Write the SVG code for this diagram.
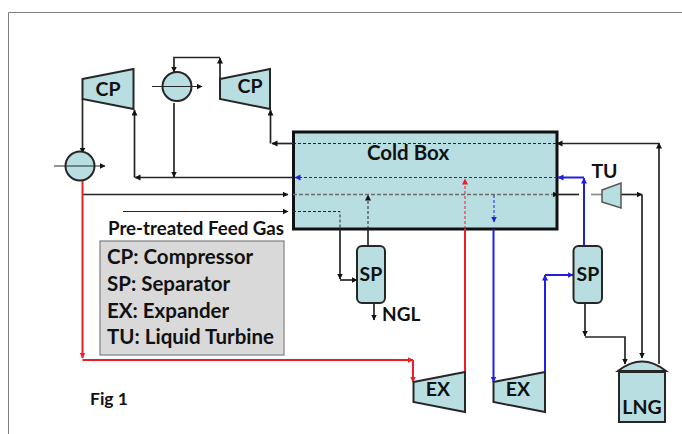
<svg xmlns="http://www.w3.org/2000/svg" width="682" height="434" viewBox="0 0 682 434">
<style>
text{font-family:"Lato","Liberation Sans",sans-serif;font-weight:700;fill:#111}
.m{text-anchor:middle;font-size:19.5px}
.lg{font-size:20.5px}
.eq{fill:#b8dee2;stroke:#262626;stroke-width:2}
.k{fill:none;stroke:#262626;stroke-width:1.7}
.kt{fill:none;stroke:#262626;stroke-width:1.2}
.kd{fill:none;stroke:#262626;stroke-width:1;stroke-dasharray:3 2}
.gd{fill:none;stroke:#6b6b6b;stroke-width:1.5;stroke-dasharray:4 2}
.r{fill:none;stroke:#ee1c25;stroke-width:2}
.rd{fill:none;stroke:#ee1c25;stroke-width:1;stroke-dasharray:3 2}
.b{fill:none;stroke:#2020e0;stroke-width:2}
.bd{fill:none;stroke:#2020e0;stroke-width:1;stroke-dasharray:3 2}
.ak{marker-end:url(#ak)}.ar{marker-end:url(#ar)}.ab{marker-end:url(#ab)}
</style>
<defs>
<marker id="ak" markerUnits="userSpaceOnUse" markerWidth="7" markerHeight="7" refX="5.5" refY="3" orient="auto"><path d="M0 0L6 3L0 6z" fill="#111"/></marker>
<marker id="ar" markerUnits="userSpaceOnUse" markerWidth="7" markerHeight="7" refX="5.5" refY="3" orient="auto"><path d="M0 0L6 3L0 6z" fill="#ee1c25"/></marker>
<marker id="ab" markerUnits="userSpaceOnUse" markerWidth="7" markerHeight="7" refX="5.5" refY="3" orient="auto"><path d="M0 0L6 3L0 6z" fill="#2020e0"/></marker>
</defs>
<path d="M8.500 434V12.500H682" fill="none" stroke="#7f7f7f" stroke-width="1"/>
<g id="coldbox"><rect x="293.500" y="132" width="263.500" height="97" class="eq" style="stroke:#111;stroke-width:3"/><text x="408" y="160" class="m" style="font-size:20.500px">Cold Box</text></g>
<g id="connectors">
<path class="k ak" d="M82.500 99V153"/>
<path class="k ak" d="M174 103V177"/>
<path class="k ak" d="M220 79V58"/>
<path class="k ak" d="M220 57.500H174V72"/>
<path class="k ak" d="M293 143.500H272"/>
<path class="k ak" d="M270.500 143.500V110"/>
<path class="kd" d="M293 143.500H557"/>
<path class="k ak" d="M659 143.500H557"/>
<path class="k ak" d="M659 364V143"/>
<path class="k ak" d="M293 177.500H135"/>
<path class="k ak" d="M134.500 177.500V110"/>
<path class="k ak" d="M82.500 194.500H288"/>
<path class="gd" d="M293 194.500H554"/>
<path class="k ak" d="M553 194.500H558"/>
<path class="k" d="M557 194.500H579"/>
<path d="M591 194.500H603" fill="none" stroke="#8a8a8a" stroke-width="1.7"/>
<path class="k ak" d="M621 194.500H642"/>
<path class="k ak" d="M642 194.500V358"/>
<path class="kt ak" d="M123 211.500H288"/>
<path class="kd" d="M293 211.500H340V229"/>
<path class="k ak" d="M340 229V279"/>
<path class="k ak" d="M340 280H357"/>
<path class="k" d="M368 246V229"/>
<path class="kd ak" d="M368 229V195"/>
<path class="k ak" d="M374 303V320"/>
<path class="r ar" d="M82.500 181V358"/>
<path class="r ar" d="M82.500 360H413"/>
<path class="r ar" d="M413 360V382"/>
<path class="r" d="M465 372V229"/>
<path class="rd ar" d="M465 229V179"/>
<path class="bd ab" d="M557 177.500H295"/>
<path class="b ab" d="M584 177.500H558"/>
<path class="b ab" d="M584 246V178"/>
<path class="bd ab" d="M494 195V222"/>
<path class="b ab" d="M493.500 229V382"/>
<path class="b ab" d="M545 372V275"/>
<path class="b ab" d="M545 275H573"/>
<path class="k ak" d="M585 303V336"/>
<path class="k ak" d="M585 337H625V364"/>
</g>
<g id="cp1"><path class="eq" d="M82.500 79L133.500 69V109L82.500 99z"/><text x="108" y="96" class="m">CP</text></g>
<g id="cp2"><path class="eq" d="M220 79L270 69V109L220 99z"/><text x="250" y="93" class="m">CP</text></g>
<g id="hx1"><circle cx="80" cy="166" r="14.500" class="eq"/><path class="kt ak" d="M54 166H105"/></g>
<g id="hx2"><circle cx="177" cy="86.500" r="14.500" class="eq"/><path class="kt ak" d="M152 86.500H202"/></g>
<g id="sp1"><rect x="357" y="246" width="28" height="57" rx="5" class="eq"/><text x="371" y="281" class="m">SP</text></g>
<g id="sp2"><rect x="573.500" y="246" width="28.500" height="57" rx="5" class="eq"/><text x="588" y="281" class="m">SP</text></g>
<g id="ex1"><path class="eq" d="M413.500 382L465 372V412L413.500 402z"/><text x="438" y="396" class="m">EX</text></g>
<g id="ex2"><path class="eq" d="M493.500 382L545 372V412L493.500 402z"/><text x="518" y="396" class="m">EX</text></g>
<g id="tu"><path class="eq" style="stroke-width:1.500;stroke:#555" d="M602 190L621 183V208L602 202z"/><text x="604.500" y="178" class="m">TU</text></g>
<g id="lng"><rect x="619" y="372" width="46" height="50" class="eq"/><path class="eq" d="M618 371Q642 352 666 371z"/><text x="642" y="414" class="m">LNG</text></g>
<g id="legend"><rect x="100" y="241" width="184" height="114" fill="#d9d9d9" stroke="#7f7f7f" stroke-width="1.200"/>
<text x="108" y="235" font-size="19.500" textLength="176" lengthAdjust="spacingAndGlyphs">Pre-treated Feed Gas</text>
<text x="107" y="264" class="lg">CP: Compressor</text>
<text x="107" y="291" class="lg">SP: Separator</text>
<text x="107" y="318" class="lg">EX: Expander</text>
<text x="107" y="344" class="lg">TU: Liquid Turbine</text></g>
<text x="382" y="321" font-size="19">NGL</text>
<text x="90" y="405" font-size="17.500">Fig 1</text>
</svg>
